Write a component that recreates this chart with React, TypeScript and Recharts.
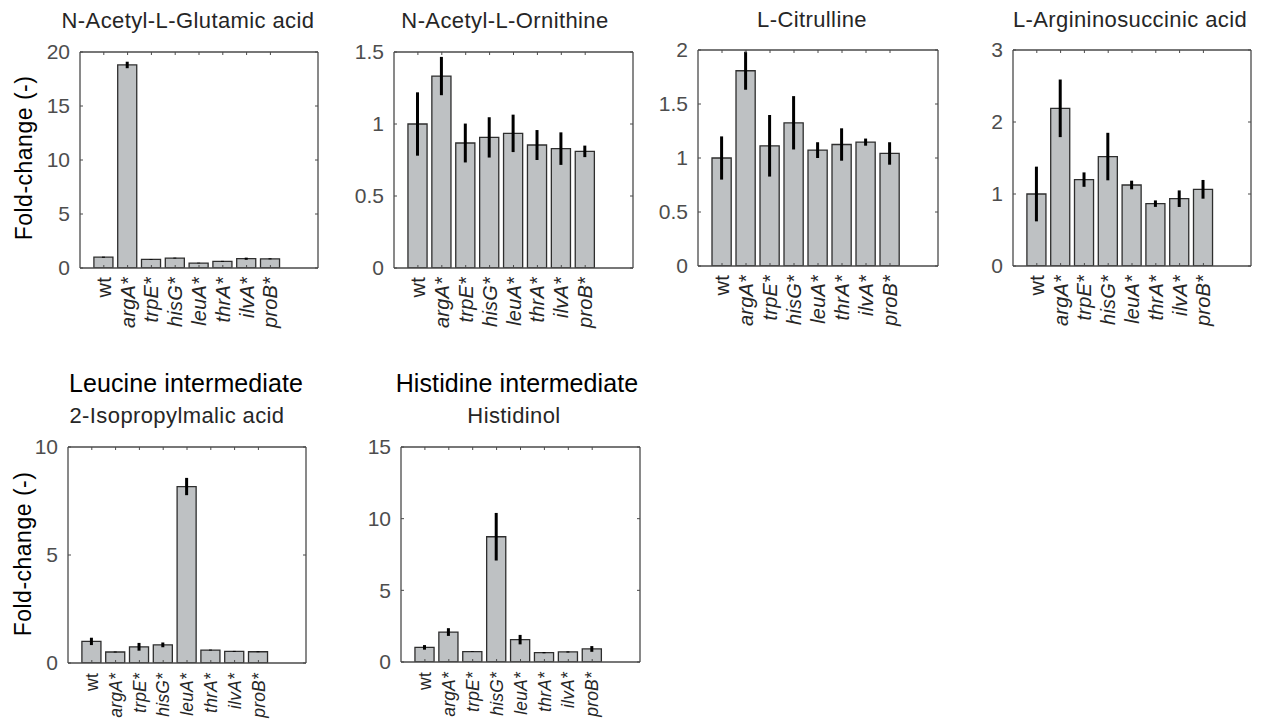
import React from 'react';
import { BarChart, Bar, XAxis, YAxis, ErrorBar } from 'recharts';

// ---------- data ----------
const CATEGORIES = ['wt', 'argA*', 'trpE*', 'hisG*', 'leuA*', 'thrA*', 'ilvA*', 'proB*'];

const NAG_VALUES = [1.0, 18.8, 0.8, 0.92, 0.46, 0.62, 0.86, 0.85];
const NAG_ERRORS = [0.05, 0.3, 0.03, 0.04, 0.03, 0.04, 0.1, 0.05];

const NAO_VALUES = [1.0, 1.333, 0.868, 0.907, 0.935, 0.854, 0.829, 0.81];
const NAO_ERRORS = [0.22, 0.133, 0.135, 0.14, 0.13, 0.104, 0.113, 0.04];

const CIT_VALUES = [1.0, 1.808, 1.113, 1.326, 1.073, 1.125, 1.147, 1.042];
const CIT_ERRORS = [0.2, 0.176, 0.285, 0.247, 0.073, 0.15, 0.033, 0.104];

const ASA_VALUES = [1.0, 2.19, 1.2, 1.52, 1.125, 0.866, 0.935, 1.065];
const ASA_ERRORS = [0.38, 0.4, 0.1, 0.33, 0.06, 0.045, 0.115, 0.13];

const IPM_VALUES = [1.0, 0.51, 0.75, 0.84, 8.17, 0.6, 0.54, 0.52];
const IPM_ERRORS = [0.17, 0.02, 0.18, 0.11, 0.4, 0.02, 0.02, 0.02];

const HOL_VALUES = [1.02, 2.09, 0.72, 8.74, 1.56, 0.65, 0.7, 0.91];
const HOL_ERRORS = [0.16, 0.27, 0.02, 1.66, 0.33, 0.04, 0.04, 0.2];

const NAG_TICKS = [0, 5, 10, 15, 20];
const NAO_TICKS = [0, 0.5, 1, 1.5];
const CIT_TICKS = [0, 0.5, 1, 1.5, 2];
const ASA_TICKS = [0, 1, 2, 3];
const IPM_TICKS = [0, 5, 10];
const HOL_TICKS = [0, 5, 10, 15];

const X_POSITIONS = [1, 2, 3, 4, 5, 6, 7, 8];
const X_DOMAIN = [0, 10];

// ---------- style ----------
const FONT = '"Liberation Sans", Arial, Helvetica, sans-serif';
const BOX = '#4a4a4a';
const TICK_TEXT = '#4d4d4d';
const BAR_FILL = '#bec1c3';
const BAR_EDGE = '#2e2e2e';

const YW = 60;
const RW = 10;
const TOPH = 22;
const BOTH = 70;

type PanelCfg = {
  values: number[];
  errors: number[];
  ticks: number[];
  left: number;
  top: number;
  w: number;
  h: number;
  labelSize: number;
  labelSpacing: number;
  labelGap: number;
};

const PANELS: PanelCfg[] = [
  { values: NAG_VALUES, errors: NAG_ERRORS, ticks: NAG_TICKS, left: 80, top: 52, w: 238, h: 216, labelSize: 20, labelSpacing: 0.2, labelGap: 9 },
  { values: NAO_VALUES, errors: NAO_ERRORS, ticks: NAO_TICKS, left: 394, top: 52, w: 239, h: 216, labelSize: 20, labelSpacing: 0.2, labelGap: 9 },
  { values: CIT_VALUES, errors: CIT_ERRORS, ticks: CIT_TICKS, left: 698, top: 50, w: 240, h: 216, labelSize: 20, labelSpacing: 0.2, labelGap: 9 },
  { values: ASA_VALUES, errors: ASA_ERRORS, ticks: ASA_TICKS, left: 1013, top: 50, w: 238, h: 216, labelSize: 20, labelSpacing: 0.2, labelGap: 9 },
  { values: IPM_VALUES, errors: IPM_ERRORS, ticks: IPM_TICKS, left: 68, top: 447, w: 238, h: 216, labelSize: 17.5, labelSpacing: 0.2, labelGap: 10 },
  { values: HOL_VALUES, errors: HOL_ERRORS, ticks: HOL_TICKS, left: 401, top: 447, w: 239, h: 215, labelSize: 17.5, labelSpacing: 0.2, labelGap: 10 },
];

type TitleCfg = { text: string; x: number; y: number; size: number; spacing: number; color: string };

const TITLES: TitleCfg[] = [
  { text: 'N-Acetyl-L-Glutamic acid', x: 188, y: 28, size: 22, spacing: 0.4, color: '#262626' },
  { text: 'N-Acetyl-L-Ornithine', x: 505, y: 28, size: 22, spacing: 0.4, color: '#262626' },
  { text: 'L-Citrulline', x: 812, y: 27, size: 22, spacing: 0.4, color: '#262626' },
  { text: 'L-Argininosuccinic acid', x: 1130, y: 27, size: 22, spacing: 0.4, color: '#262626' },
  { text: 'Leucine intermediate', x: 186, y: 392, size: 25, spacing: 0.1, color: '#000000' },
  { text: '2-Isopropylmalic acid', x: 177, y: 423, size: 22, spacing: 0.4, color: '#262626' },
  { text: 'Histidine intermediate', x: 517, y: 392, size: 25, spacing: 0.1, color: '#000000' },
  { text: 'Histidinol', x: 514, y: 423, size: 22, spacing: 0.4, color: '#262626' },
];

const YLABELS = [
  { text: 'Fold-change (-)', x: 24, y: 158 },
  { text: 'Fold-change (-)', x: 23, y: 554 },
];

function fmt(v: number) {
  return String(v);
}

function Panel({ cfg }: { cfg: PanelCfg }) {
  const data = CATEGORIES.map((name, i) => ({
    x: X_POSITIONS[i],
    name,
    v: cfg.values[i],
    e: cfg.errors[i],
  }));
  const unit = cfg.w / (X_DOMAIN[1] - X_DOMAIN[0]);
  const yMax = cfg.ticks[cfg.ticks.length - 1];

  const bottomTick = (props: any) => {
    const { x, y, payload } = props;
    const idx = X_POSITIONS.indexOf(payload.value);
    const label = CATEGORIES[idx] ?? '';
    const italic = label !== 'wt';
    return (
      <g>
        <line x1={x} y1={y} x2={x} y2={y - 3} stroke={BOX} strokeWidth={1} />
        <text
          transform={`translate(${x}, ${y + cfg.labelGap}) rotate(-90)`}
          textAnchor="end"
          dy="0.35em"
          fontFamily={FONT}
          fontSize={cfg.labelSize}
          fontStyle={italic ? 'italic' : 'normal'}
          letterSpacing={cfg.labelSpacing}
          fill="#262626"
        >
          {label}
        </text>
      </g>
    );
  };

  const topTick = (props: any) => {
    const { x, y } = props;
    return <line x1={x} y1={y} x2={x} y2={y + 3} stroke={BOX} strokeWidth={1} />;
  };

  const leftTick = (props: any) => {
    const { x, y, payload } = props;
    return (
      <g>
        <line x1={x} y1={y} x2={x + 3} y2={y} stroke={BOX} strokeWidth={1} />
        <text x={x - 10} y={y} dy="0.35em" textAnchor="end" fontFamily={FONT} fontSize={21} fill={TICK_TEXT}>
          {fmt(payload.value)}
        </text>
      </g>
    );
  };

  const rightTick = (props: any) => {
    const { x, y } = props;
    return <line x1={x} y1={y} x2={x - 3} y2={y} stroke={BOX} strokeWidth={1} />;
  };

  return (
    <div style={{ position: 'absolute', left: cfg.left - YW, top: cfg.top - TOPH }}>
      <BarChart
        width={cfg.w + YW + RW}
        height={cfg.h + TOPH + BOTH}
        data={data}
        margin={{ top: 0, right: 0, bottom: 0, left: 0 }}
      >
        <XAxis
          xAxisId="b"
          dataKey="x"
          type="number"
          domain={X_DOMAIN}
          ticks={X_POSITIONS}
          allowDataOverflow
          interval={0}
          height={BOTH}
          tickSize={0}
          tickMargin={0}
          tickLine={false}
          axisLine={{ stroke: BOX, strokeWidth: 1.3 }}
          tick={bottomTick}
        />
        <XAxis
          xAxisId="t"
          orientation="top"
          dataKey="x"
          type="number"
          domain={X_DOMAIN}
          ticks={X_POSITIONS}
          allowDataOverflow
          interval={0}
          height={TOPH}
          tickSize={0}
          tickMargin={0}
          tickLine={false}
          axisLine={{ stroke: BOX, strokeWidth: 1.3 }}
          tick={topTick}
        />
        <YAxis
          yAxisId="l"
          type="number"
          domain={[0, yMax]}
          ticks={cfg.ticks}
          allowDataOverflow
          interval={0}
          width={YW}
          tickSize={0}
          tickMargin={0}
          tickLine={false}
          axisLine={{ stroke: BOX, strokeWidth: 1.3 }}
          tick={leftTick}
        />
        <YAxis
          yAxisId="r"
          orientation="right"
          type="number"
          domain={[0, yMax]}
          ticks={cfg.ticks}
          allowDataOverflow
          interval={0}
          width={RW}
          tickSize={0}
          tickMargin={0}
          tickLine={false}
          axisLine={{ stroke: BOX, strokeWidth: 1.3 }}
          tick={rightTick}
        />
        <Bar
          xAxisId="b"
          yAxisId="l"
          dataKey="v"
          barSize={unit * 0.8}
          fill={BAR_FILL}
          stroke={BAR_EDGE}
          strokeWidth={1.3}
          isAnimationActive={false}
        >
          <ErrorBar dataKey="e" direction="y" width={0} stroke="#000000" strokeWidth={3} />
        </Bar>
      </BarChart>
    </div>
  );
}

export default function App() {
  return (
    <div style={{ position: 'absolute', left: 0, top: 0, width: 1263, height: 722, background: '#ffffff', overflow: 'hidden' }}>
      {PANELS.map((p, i) => (
        <Panel key={i} cfg={p} />
      ))}
      <svg width={1263} height={722} style={{ position: 'absolute', left: 0, top: 0, pointerEvents: 'none' }}>
        {TITLES.map((t, i) => (
          <text
            key={i}
            x={t.x}
            y={t.y}
            textAnchor="middle"
            fontFamily={FONT}
            fontSize={t.size}
            letterSpacing={t.spacing}
            fill={t.color}
          >
            {t.text}
          </text>
        ))}
        {YLABELS.map((l, i) => (
          <text
            key={i}
            transform={`translate(${l.x}, ${l.y}) rotate(-90)`}
            textAnchor="middle"
            dy="0.35em"
            fontFamily={FONT}
            fontSize={23}
            letterSpacing={0.5}
            fill="#000000"
          >
            {l.text}
          </text>
        ))}
      </svg>
    </div>
  );
}
